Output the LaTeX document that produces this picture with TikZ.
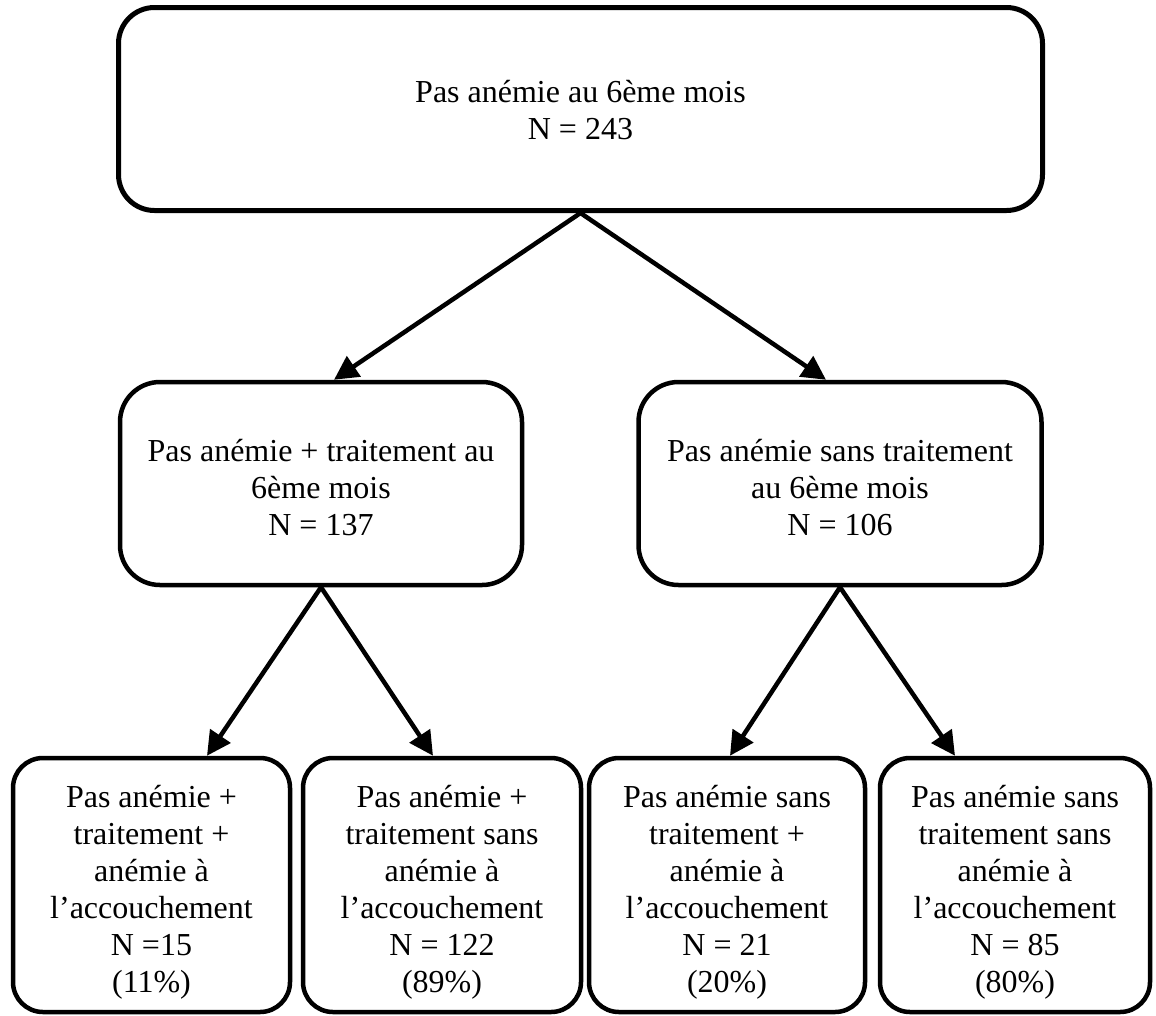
\documentclass[tikz,border=0pt]{standalone}
\usepackage{fontspec}
\setmainfont{Liberation Serif}
\usetikzlibrary{arrows.meta}
\begin{document}
\begin{tikzpicture}[x=1pt,y=-1pt,
  box/.style={draw, line width=4.5pt, rounded corners=#1, inner sep=0pt},
  txt/.style={align=center, inner sep=0pt, font=\fontsize{32}{37}\selectfont},
  arr/.style={line width=4.5pt, -{Triangle[length=24pt,width=24pt]}}]
  \useasboundingbox (0,0) rectangle (1156,1015);

  % root
  \node[box=36pt, line width=5pt, minimum width=924pt, minimum height=203pt]
    (root) at (580.5,109) {};
  \node[txt] (rootT) at ([yshift=-1pt]root.center) {Pas anémie au 6ème mois\\N = 243};

  % second level
  \node[box=40pt, minimum width=402pt, minimum height=203pt] (mA) at (321,483.5) {};
  \node[txt] (mAT) at ([yshift=-4pt]mA.center) {Pas anémie + traitement au\\6ème mois\\N = 137};
  \node[box=40pt, minimum width=403pt, minimum height=203pt] (mB) at (840,483.5) {};
  \node[txt] (mBT) at ([yshift=-4pt]mB.center) {Pas anémie sans traitement\\au 6ème mois\\N = 106};

  % leaves
  \node[box=30pt, minimum width=277pt, minimum height=254pt] (lA) at (151.5,885) {};
  \node[txt] (lAT) at ([yshift=-7pt]lA.center)
    {Pas anémie +\\traitement +\\anémie à\\l’accouchement\\N =15\\(11\%)};
  \node[box=30pt, minimum width=278pt, minimum height=254pt] (lB) at (442,885) {};
  \node[txt] (lBT) at ([yshift=-7pt]lB.center)
    {Pas anémie +\\traitement sans\\anémie à\\l’accouchement\\N = 122\\(89\%)};
  \node[box=30pt, minimum width=276pt, minimum height=254pt] (lC) at (727,885) {};
  \node[txt] (lCT) at ([yshift=-7pt]lC.center)
    {Pas anémie sans\\traitement +\\anémie à\\l’accouchement\\N = 21\\(20\%)};
  \node[box=30pt, minimum width=270pt, minimum height=254pt] (lD) at (1015,885) {};
  \node[txt] (lDT) at ([yshift=-7pt]lD.center)
    {Pas anémie sans\\traitement sans\\anémie à\\l’accouchement\\N = 85\\(80\%)};

  % connectors
  \draw[arr] (root.south) -- ([xshift=13pt]mA.north);
  \draw[arr] (root.south) -- ([xshift=-14pt]mB.north);
  \draw[arr] (mA.south) -- ([xshift=55.5pt]lA.north);
  \draw[arr] (mA.south) -- ([xshift=-9pt]lB.north);
  \draw[arr] (mB.south) -- ([xshift=3pt]lC.north);
  \draw[arr] (mB.south) -- ([xshift=-60pt]lD.north);
\end{tikzpicture}
\end{document}
